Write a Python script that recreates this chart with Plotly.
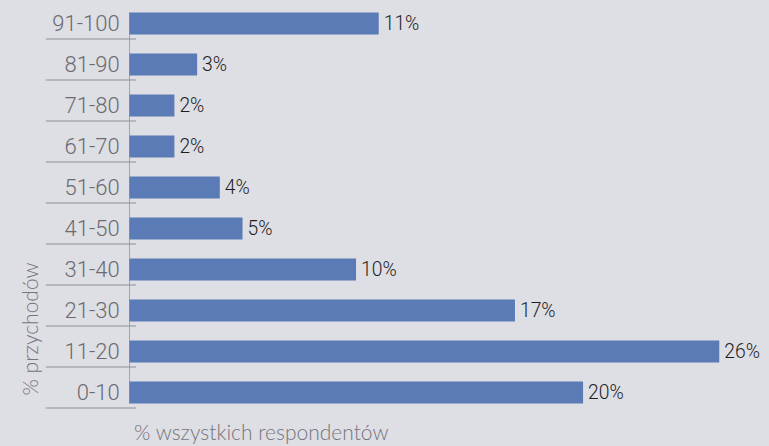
import plotly.graph_objects as go

categories = ["0-10", "11-20", "21-30", "31-40", "41-50", "51-60", "61-70", "71-80", "81-90", "91-100"]
values = [20, 26, 17, 10, 5, 4, 2, 2, 3, 11]
value_labels = [f"{v}%" for v in values]
x_title = "% wszystkich respondentów"
y_title = "% przychodów"

BG = "#dedee5"
BAR = "#5b7bb6"

fig = go.Figure()
fig.add_trace(go.Bar(
    x=values, y=categories, orientation="h",
    marker=dict(color=BAR, line=dict(width=0)),
    width=0.535,
    text=value_labels, texttemplate="\u200a%{text}",
    textposition="outside", cliponaxis=False,
    textfont=dict(family="Roboto", size=22, color="#1e1e1e", weight=300),
    hoverinfo="skip",
))

shapes = []
# separators between category labels
for i in range(len(categories)):
    y = i - 0.5 + 0.12
    shapes.append(dict(type="line", xref="paper", yref="y",
                       x0=-0.13, x1=0.011, y0=y, y1=y,
                       line=dict(color="#a9aab0", width=1.5)))
# orange axis line
shapes.append(dict(type="line", xref="x", yref="y", x0=0, x1=0,
                   y0=-0.27, y1=len(categories) - 1 + 0.27,
                   line=dict(color="#e0793a", width=1.5)))

fig.update_layout(
    width=769, height=446,
    margin=dict(l=129, r=0, t=2.5, b=32.5),
    paper_bgcolor=BG, plot_bgcolor=BG,
    showlegend=False,
    shapes=shapes,
    xaxis=dict(range=[0, 28.19], visible=False, fixedrange=True),
    yaxis=dict(type="category", categoryorder="array", categoryarray=categories,
               range=[-0.5, len(categories) - 0.5],
               showgrid=False, showline=False, zeroline=False,
               ticks="outside", ticklen=4, tickcolor="rgba(0,0,0,0)",
               tickfont=dict(family="Roboto", size=22, color="#6b6b70", weight=300)),
    annotations=[
        dict(text=x_title, xref="paper", yref="paper", x=0.004, y=-0.045,
             xanchor="left", yanchor="middle", showarrow=False,
             font=dict(family="Lato", size=21, color="#75757b", weight=300)),
        dict(text=y_title, xref="paper", yref="paper", x=-0.156, y=0.037,
             xanchor="center", yanchor="bottom", textangle=-90, showarrow=False,
             font=dict(family="Lato", size=21, color="#75757b", weight=300)),
    ],
)

fig.write_html("out.html")
